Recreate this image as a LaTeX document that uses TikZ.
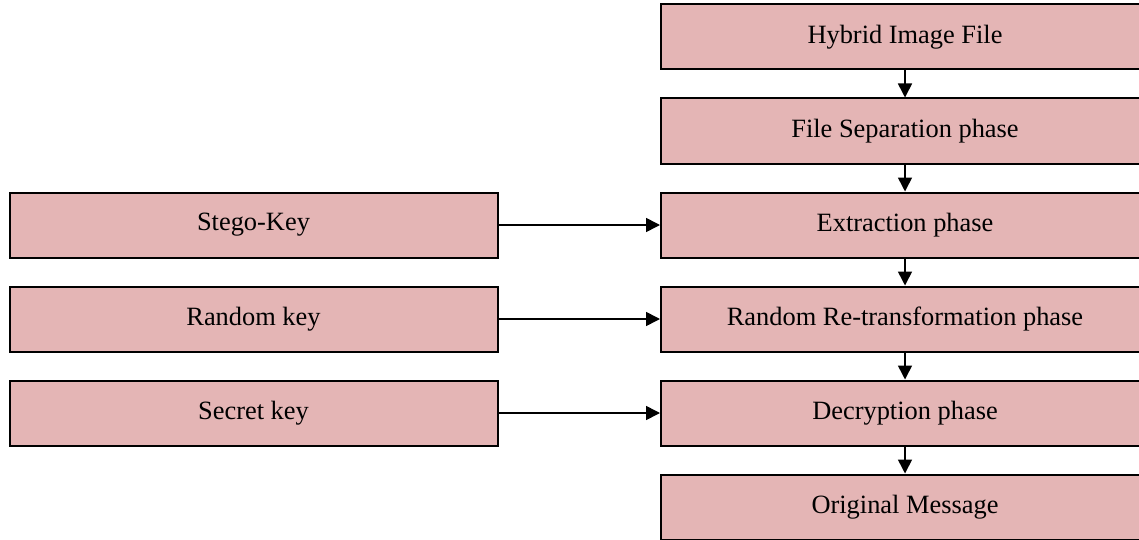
\documentclass[tikz,border=0pt]{standalone}
\usepackage{xcolor}
\usepackage{fontspec}
\setmainfont{Liberation Serif}
\usetikzlibrary{arrows.meta, positioning}
\definecolor{boxpink}{RGB}{228,181,181}

\begin{document}
\begin{tikzpicture}[x=1pt, y=1pt, >={Triangle[length=7pt,width=7pt]},
			phase/.style={draw,fill=boxpink, rectangle, line width=1pt, minimum width=244pt, minimum height=32.5pt, font=\fontsize{13.2}{16}\selectfont, node distance= {47pt}},
			key/.style={phase, node distance= {325.75pt}}
			]
			\useasboundingbox (0,0) rectangle (569.5,-270);
			\node [phase](p1) at (452.5,-18.5) {Hybrid Image File};
			\node [phase](p2) [below of=p1] {File Separation phase};
			\node [phase](p3) [below of=p2] {Extraction phase};
			\node [phase](p4) [below of=p3] {Random Re-transformation phase};
			\node [phase](p5) [below of=p4] {Decryption phase};
			\node [phase](p6) [below of=p5] {Original Message};
			\node [key](k1) [left of=p3] {Stego-Key};
			\node [key](k2) [left of=p4] {Random key};
			\node [key](k3) [left of=p5] {Secret key};
			
			\draw[thick, black, ->] (p1) -- (p2);
			\draw[thick, black, ->] (p2) -- (p3);
			\draw[thick, black, ->] (p3) -- (p4);
			\draw[thick, black, ->] (p4) -- (p5);
			\draw[thick, black, ->] (p5) -- (p6);
			\draw[thick, black, ->] (k1) -- (p3);
			\draw[thick, black, ->] (k2) -- (p4);
			\draw[thick, black, ->] (k3) -- (p5);
		\end{tikzpicture}
\end{document}
